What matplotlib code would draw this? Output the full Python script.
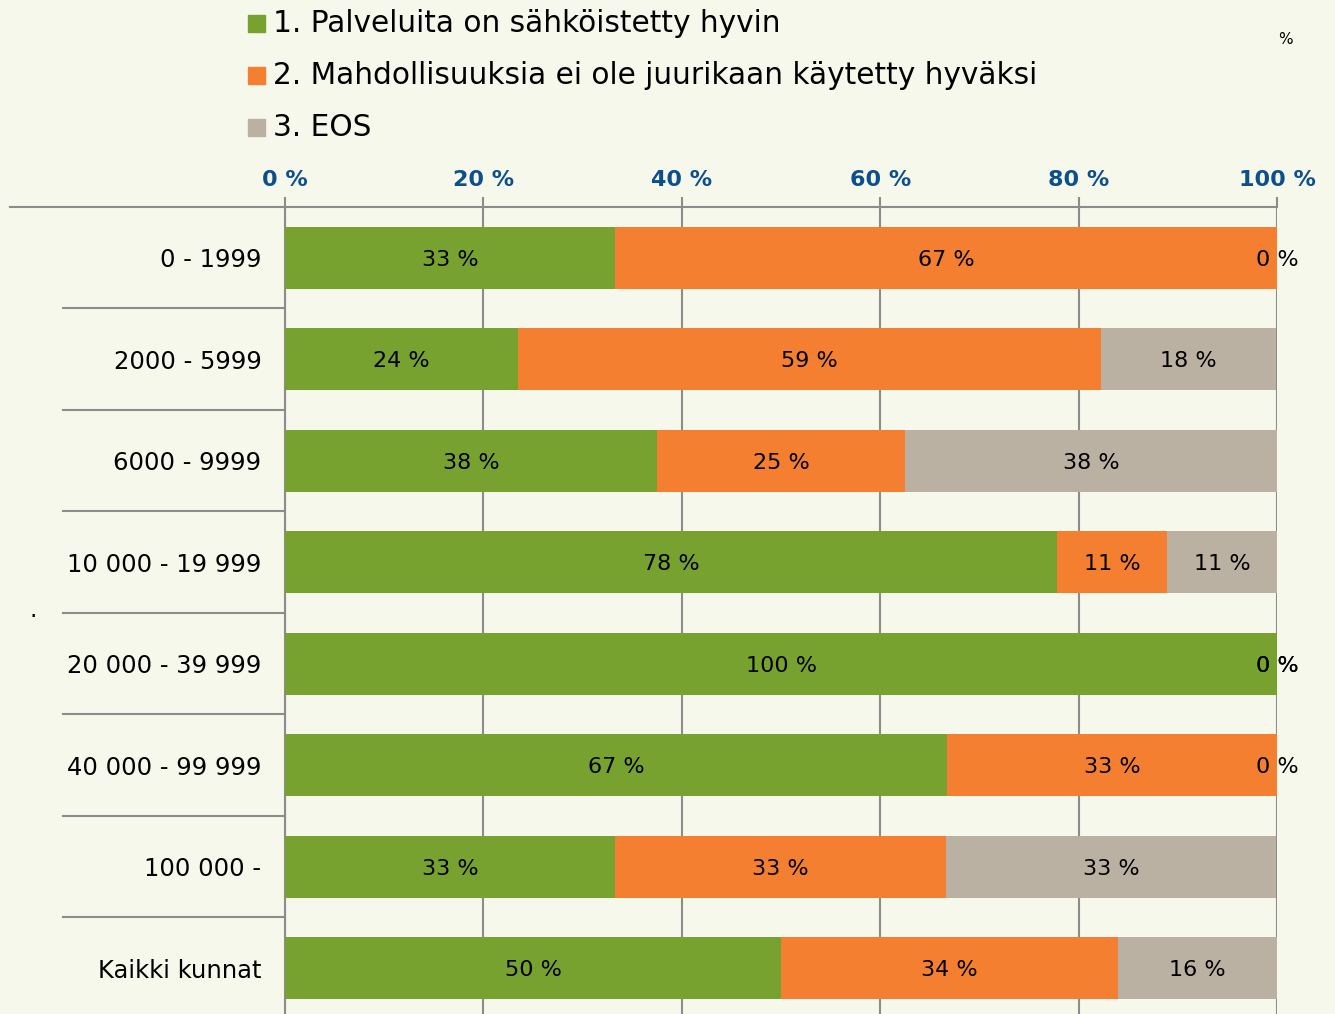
import matplotlib.pyplot as plt
import numpy as np
from matplotlib.patches import Rectangle
from matplotlib.transforms import blended_transform_factory

# Data (shares in %, labels shown rounded)
categories = ['0 - 1999', '2000 - 5999', '6000 - 9999', '10 000 - 19 999',
              '20 000 - 39 999', '40 000 - 99 999', '100 000 -', 'Kaikki kunnat']
hyvin = [33.3, 23.5, 37.5, 77.8, 100, 66.7, 33.3, 50.0]
ei_kaytetty = [66.7, 58.8, 25.0, 11.1, 0, 33.3, 33.3, 34.0]
eos = [0, 17.6, 37.5, 11.1, 0, 0, 33.3, 16.0]
series_names = ['1. Palveluita on sähköistetty hyvin',
                '2. Mahdollisuuksia ei ole juurikaan käytetty hyväksi',
                '3. EOS']
x_ticks = [0, 20, 40, 60, 80, 100]

colors = ['#78a22f', '#f47f31', '#bab1a3']
bg = '#f7f8ec'
grid_col = '#8c8c8c'
blue = '#0b4f8c'

W, H = 1335, 1014
fig = plt.figure(figsize=(W / 100, H / 100), dpi=100, facecolor=bg)
ax = fig.add_axes([285 / W, 1 - 1019 / H, 992 / W, 812 / H], facecolor=bg)

y = np.arange(len(categories))
left = np.zeros(len(categories))
for vals, col in zip([hyvin, ei_kaytetty, eos], colors):
    vals = np.array(vals, dtype=float)
    ax.barh(y, vals, left=left, height=0.61, color=col, zorder=3)
    for yi, l, v in zip(y, left, vals):
        ax.text(l + v / 2, yi + 0.02, f'{int(v + 0.5)} %', ha='center', va='center',
                fontsize=16, color='black', zorder=4)
    left = left + vals

ax.set_xlim(0, 100)
ax.set_ylim(len(categories) - 0.5, -0.5)

# top axis with percent ticks
ax.xaxis.tick_top()
ax.set_xticks(x_ticks)
ax.set_xticklabels([f'{t} %' for t in x_ticks], fontsize=16, fontweight='bold', color=blue)
ax.tick_params(axis='x', length=7, color=grid_col, width=1.5, pad=5)
ax.grid(axis='x', color=grid_col, linewidth=1.5, zorder=0)

ax.set_yticks(y)
ax.set_yticklabels(categories, fontsize=17.5)
ax.tick_params(axis='y', length=0, pad=17)

for s in ['right', 'bottom']:
    ax.spines[s].set_visible(False)
for s in ['top', 'left']:
    ax.spines[s].set_color(grid_col)
    ax.spines[s].set_linewidth(1.5)

# separator lines between categories on the left
trans = blended_transform_factory(ax.transAxes, ax.transData)
ax.plot([-275 / 992, 0], [-0.5, -0.5], transform=trans, color=grid_col,
        lw=1.5, clip_on=False)
for k in range(len(categories) - 1):
    ax.plot([-222 / 992, 0], [k + 0.5, k + 0.5], transform=trans, color=grid_col,
            lw=1.5, clip_on=False)

# legend
for i, (name, col) in enumerate(zip(series_names, colors)):
    yc = 1 - (23 + 52 * i) / H
    fig.patches.append(Rectangle((248 / W, yc - 8.5 / H), 17 / W, 17 / H,
                                 transform=fig.transFigure, color=col))
    fig.text(273 / W, yc, name, fontsize=21.3, va='center', ha='left')

fig.text(1285 / W, 1 - 40 / H, '%', fontsize=11, ha='center', va='center')
fig.text(33 / W, 1 - 610 / H, '.', fontsize=17, ha='center', va='center')

fig.savefig('out.png', dpi=100, facecolor=bg)
